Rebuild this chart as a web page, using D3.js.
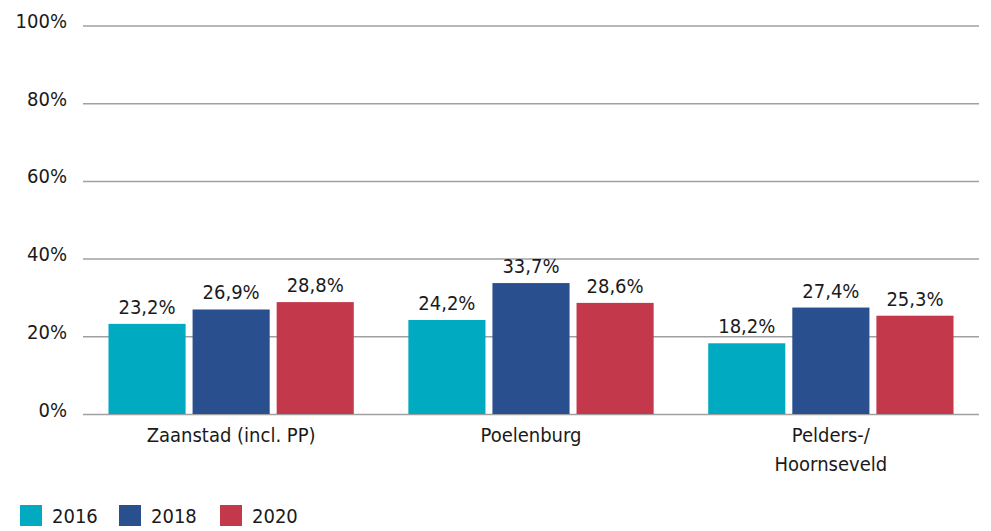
<!DOCTYPE html>
<html>
<head>
<meta charset="utf-8">
<script src="https://cdn.jsdelivr.net/npm/d3@7"></script>
<style>
  body { margin: 0; background: #fff; }
  text { font-family: "DejaVu Sans Condensed", "DejaVu Sans", sans-serif; fill: #1a1a1a; }
</style>
</head>
<body>
<div id="chart"></div>
<script>
// 数据
const categories = ["Zaanstad (incl. PP)", "Poelenburg", "Pelders-/\nHoornseveld"];
const years = ["2016", "2018", "2020"];
const values2016 = [23.2, 24.2, 18.2];
const values2018 = [26.9, 33.7, 27.4];
const values2020 = [28.8, 28.6, 25.3];
const yTicks = [0, 20, 40, 60, 80, 100];
const colors = ["#00aac0", "#294f8e", "#c3384b"];

const width = 991;
const height = 531;

const series = [values2016, values2018, values2020];
const rows = categories.map((c, i) => ({
    category: c,
    values: years.map((y, j) => ({ year: y, value: series[j][i] }))
}));

const svg = d3.select("#chart")
    .append("svg")
    .attr("width", width)
    .attr("height", height);

// 比例尺
const x0 = d3.scaleBand()
    .domain(categories)
    .range([83, 979])
    .paddingInner(0.182)
    .paddingOuter(0.085);

const x1 = d3.scaleBand()
    .domain(years)
    .range([0, x0.bandwidth()])
    .paddingInner(0.083);

const y = d3.scaleLinear()
    .domain([0, 100])
    .range([414, 25.5]);

const color = d3.scaleOrdinal().domain(years).range(colors);

// 网格线 + y轴标签
const yAxis = svg.append("g")
    .attr("class", "y-axis")
    .attr("transform", "translate(83,0)")
    .call(d3.axisLeft(y)
        .tickValues(yTicks)
        .tickSize(-896)
        .tickPadding(16)
        .tickFormat(d => d + "%"));

yAxis.select(".domain").remove();
yAxis.selectAll(".tick line")
    .attr("stroke", "#a0a0a0")
    .attr("stroke-width", 1.5);
yAxis.selectAll(".tick text")
    .attr("dy", "0.1em")
    .style("font-size", "20px");

// 柱子
const groups = svg.append("g")
    .selectAll("g")
    .data(rows)
    .enter()
    .append("g")
    .attr("transform", d => `translate(${x0(d.category)},0)`);

groups.selectAll("rect")
    .data(d => d.values)
    .enter()
    .append("rect")
    .attr("x", d => x1(d.year))
    .attr("y", d => y(d.value))
    .attr("width", x1.bandwidth())
    .attr("height", d => y(0) - y(d.value))
    .attr("fill", d => color(d.year));

// 数值标签
groups.selectAll("text.value")
    .data(d => d.values)
    .enter()
    .append("text")
    .attr("class", "value")
    .attr("x", d => x1(d.year) + x1.bandwidth() / 2)
    .attr("y", d => y(d.value) - 10)
    .attr("text-anchor", "middle")
    .style("font-size", "20px")
    .text(d => d.value.toFixed(1).replace(".", ",") + "%");

// 类别标签
svg.append("g")
    .selectAll("text")
    .data(categories)
    .enter()
    .append("text")
    .attr("x", d => x0(d) + x0.bandwidth() / 2)
    .attr("y", 442)
    .attr("text-anchor", "middle")
    .style("font-size", "20px")
    .each(function(d) {
        const lines = d.split("\n");
        d3.select(this).selectAll("tspan")
            .data(lines)
            .enter()
            .append("tspan")
            .attr("x", x0(d) + x0.bandwidth() / 2)
            .attr("dy", (l, i) => i === 0 ? 0 : 29)
            .text(l => l);
    });

// 图例
const legend = svg.append("g")
    .attr("class", "legend")
    .selectAll("g")
    .data(years)
    .enter()
    .append("g")
    .attr("transform", (d, i) => `translate(${[20, 119, 220][i]},505)`);

legend.append("rect")
    .attr("width", 22)
    .attr("height", 21)
    .attr("fill", d => color(d));

legend.append("text")
    .attr("x", 32)
    .attr("y", 18)
    .style("font-size", "20px")
    .text(d => d);
</script>
</body>
</html>
